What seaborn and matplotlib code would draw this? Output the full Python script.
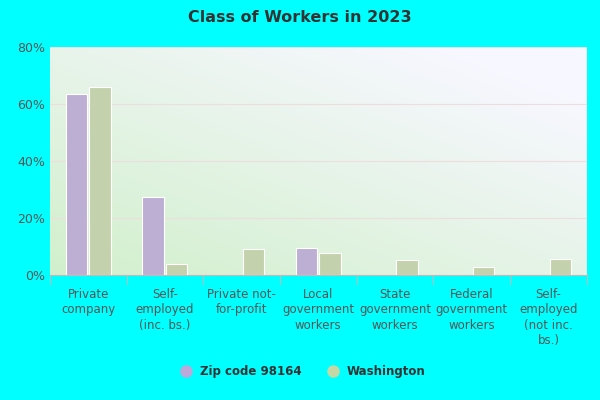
import matplotlib
matplotlib.use("Agg")
import matplotlib.pyplot as plt
import seaborn as sns
import numpy as np
import pandas as pd

categories = ["Private\ncompany", "Self-\nemployed\n(inc. bs.)", "Private not-\nfor-profit",
              "Local\ngovernment\nworkers", "State\ngovernment\nworkers", "Federal\ngovernment\nworkers",
              "Self-\nemployed\n(not inc.\nbs.)"]
zip_vals = [63.5, 27.4, 0, 9.5, 0, 0, 0]
wa_vals = [66.0, 3.9, 9.1, 7.7, 5.3, 2.8, 5.6]
series = ["Zip code 98164", "Washington"]

df = pd.DataFrame({
    "cat": categories * 2,
    "val": zip_vals + wa_vals,
    "series": [series[0]] * 7 + [series[1]] * 7,
})

fig = plt.figure(figsize=(6, 4), dpi=100, facecolor="#00FFFF")
ax = fig.add_axes([0.083, 0.312, 0.895, 0.57])
gx = np.linspace(0, 1, 200)
gy = np.linspace(0, 1, 200)
X, Y = np.meshgrid(gx, gy)
t = np.clip(0.55 * X + 0.6 * Y, 0, 1)
c0 = np.array([0.82, 0.94, 0.80])
c1 = np.array([0.97, 0.97, 1.0])
img = c0[None, None, :] * (1 - t[..., None]) + c1[None, None, :] * t[..., None]
ax.imshow(img, extent=[-0.5, 6.5, 0, 80], origin="lower", aspect="auto", zorder=0)

sns.barplot(data=df, x="cat", y="val", hue="series", palette=["#BCA8DA", "#C4D8A6"],
            width=0.62, gap=0.1, edgecolor="white", linewidth=0.8, ax=ax, legend=False, zorder=2)
ax.set_xlim(-0.5, 6.5)
ax.set_ylim(0, 80)
ax.set_yticks([0, 20, 40, 60, 80])
ax.set_yticklabels([f"{v}%" for v in [0, 20, 40, 60, 80]], color="#555555", fontsize=9)
ax.grid(axis="y", color="#eedddd", linewidth=0.8, zorder=1)
ax.set_axisbelow(True)
for s in ["top", "right", "left"]:
    ax.spines[s].set_visible(False)
ax.spines["bottom"].set_color("#bbbbbb")
ax.tick_params(axis="y", length=0)
ax.tick_params(axis="x", length=0, pad=9)
ax.set_xticks(range(7))
ax.set_xticklabels(categories, color="#555555", fontsize=8.5, linespacing=1.25, va="top")
for x in np.arange(-0.5, 7, 1):
    ax.plot([x, x], [0, -3], color="#bbbbbb", lw=0.8, clip_on=False)
ax.set_xlabel("")
ax.set_ylabel("")

fig.text(0.5, 0.955, "Class of Workers in 2023", ha="center", va="center",
         fontsize=11.5, fontweight="bold", color="#333333")
from matplotlib.lines import Line2D
handles = [Line2D([], [], marker="o", ls="", markersize=8, color=c) for c in ["#BCA8DA", "#C4D8A6"]]
fig.legend(handles, series, loc="center", bbox_to_anchor=(0.5, 0.07), ncol=2, frameon=False,
           prop={"weight": "bold", "size": 8.5}, handletextpad=0.2, columnspacing=1.6, labelcolor="#333333")
fig.savefig("out.png", dpi=100, facecolor="#00FFFF")
